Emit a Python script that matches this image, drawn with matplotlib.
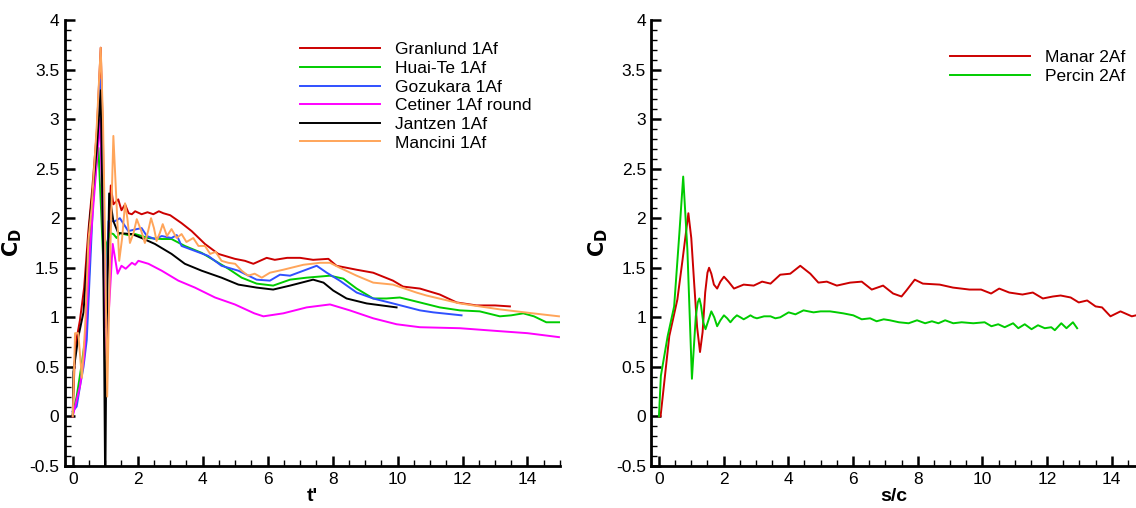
import matplotlib
matplotlib.use('Agg')
from matplotlib import pyplot as plt
from matplotlib.ticker import MultipleLocator, FuncFormatter

plt.rcParams['font.family'] = ['Liberation Sans', 'DejaVu Sans']

# ---- left panel: 1Af cases, C_D vs t'
granlund_t = [0, 0.05, 0.1, 0.22, 0.35, 0.48, 0.6, 0.74, 0.86, 0.93, 1.0, 1.08, 1.17, 1.25, 1.4, 1.5,
              1.61, 1.72, 1.82, 1.92, 2.12, 2.3, 2.48, 2.65, 2.79, 3.0, 3.35, 3.66, 4.07, 4.48, 4.99,
              5.3, 5.56, 5.97, 6.22, 6.6, 7.0, 7.4, 7.87, 8.12, 8.74, 9.25, 9.86, 10.17, 10.69, 11.3,
              11.82, 12.43, 13.0, 13.46]
granlund_cd = [0, 0.5, 0.75, 0.97, 1.3, 1.87, 2.3, 2.87, 3.72, 2.8, 0.9, 1.6, 2.33, 2.14, 2.19, 2.08,
               2.14, 2.05, 2.04, 2.07, 2.04, 2.06, 2.04, 2.07, 2.05, 2.03, 1.95, 1.87, 1.74, 1.64, 1.59,
               1.57, 1.54, 1.60, 1.58, 1.60, 1.60, 1.58, 1.59, 1.52, 1.48, 1.45, 1.37, 1.31, 1.29, 1.23,
               1.15, 1.12, 1.12, 1.11]

huaite_t = [0, 0.12, 0.28, 0.43, 0.58, 0.7, 0.79, 0.89, 0.97, 1.05, 1.15, 1.25, 1.35, 1.45, 1.7, 1.92,
            2.33, 2.74, 3.04, 3.45, 3.97, 4.38, 4.79, 5.2, 5.66, 6.17, 6.69, 7.2, 7.92, 8.33, 8.74, 9.25,
            9.66, 10.07, 10.69, 11.3, 11.92, 12.53, 13.15, 13.5, 13.87, 14.2, 14.58, 15.0]
huaite_cd = [0.02, 0.2, 0.54, 0.9, 2.0, 2.45, 2.71, 1.94, 1.3, 1.75, 1.85, 1.84, 1.80, 1.85, 1.83, 1.84,
             1.80, 1.79, 1.79, 1.72, 1.65, 1.57, 1.49, 1.40, 1.34, 1.32, 1.38, 1.40, 1.42, 1.39, 1.29, 1.19,
             1.19, 1.20, 1.15, 1.10, 1.07, 1.06, 1.01, 1.02, 1.04, 1.01, 0.95, 0.95]

gozukara_t = [0, 0.12, 0.22, 0.33, 0.43, 0.63, 0.76, 0.84, 0.92, 1.0, 1.1, 1.3, 1.45, 1.71, 1.97, 2.12,
              2.28, 2.53, 2.74, 3.04, 3.2, 3.35, 3.76, 4.17, 4.58, 5.1, 5.66, 6.07, 6.38, 6.69, 7.1, 7.51,
              7.82, 8.22, 8.74, 9.25, 9.86, 10.69, 11.1, 11.97]
gozukara_cd = [0.05, 0.1, 0.3, 0.5, 0.77, 2.2, 2.9, 3.4, 2.4, 1.0, 1.97, 1.97, 2.0, 1.87, 1.89, 1.90,
               1.82, 1.79, 1.82, 1.80, 1.83, 1.72, 1.67, 1.62, 1.52, 1.47, 1.38, 1.37, 1.43, 1.42, 1.47, 1.52,
               1.45, 1.37, 1.25, 1.19, 1.14, 1.07, 1.05, 1.02]

cetiner_t = [0, 0.07, 0.22, 0.35, 0.53, 0.7, 0.84, 0.92, 1.0, 1.1, 1.23, 1.38, 1.5, 1.63, 1.82, 1.92,
             2.02, 2.33, 2.74, 3.25, 3.76, 4.38, 4.99, 5.59, 5.87, 6.48, 7.2, 7.92, 8.53, 9.25, 9.97,
             10.69, 11.92, 13.15, 14.0, 14.97]
cetiner_cd = [0, 0.1, 0.3, 0.6, 1.7, 2.4, 3.0, 2.0, 0.6, 1.0, 1.74, 1.44, 1.52, 1.49, 1.55, 1.53,
              1.57, 1.54, 1.47, 1.37, 1.30, 1.20, 1.13, 1.04, 1.01, 1.04, 1.10, 1.13, 1.07, 0.99, 0.93,
              0.90, 0.89, 0.86, 0.84, 0.80]

jantzen_t = [0, 0.02, 0.17, 0.33, 0.53, 0.74, 0.86, 0.94, 0.97, 0.995, 1.005, 1.03, 1.12, 1.25, 1.40,
             1.82, 2.12, 2.53, 3.04, 3.45, 3.97, 4.58, 5.1, 5.66, 6.17, 6.69, 7.4, 7.72, 8.02, 8.43,
             9.05, 9.97]
jantzen_cd = [0, 0.45, 0.8, 1.05, 2.0, 2.7, 3.29, 1.54, 0.5, -0.6, -0.6, 0.6, 2.25, 1.97, 1.85,
              1.84, 1.80, 1.74, 1.64, 1.54, 1.47, 1.40, 1.33, 1.30, 1.28, 1.32, 1.38, 1.35, 1.27, 1.19,
              1.14, 1.10]

mancini_t = [0, 0.07, 0.17, 0.28, 0.38, 0.48, 0.58, 0.74, 0.86, 0.93, 0.99, 1.06, 1.15, 1.25, 1.34,
             1.43, 1.52, 1.61, 1.68, 1.76, 1.87, 1.97, 2.1, 2.22, 2.32, 2.41, 2.5, 2.58, 2.68, 2.77,
             2.9, 3.04, 3.2, 3.35, 3.5, 3.71, 3.87, 4.07, 4.23, 4.4, 4.58, 4.79, 5.0, 5.2, 5.4, 5.6,
             5.82, 6.07, 6.48, 7.1, 7.61, 7.92, 8.22, 8.74, 9.25, 9.86, 10.58, 10.89, 11.92, 13.15,
             14.17, 14.97]
mancini_cd = [0, 0.84, 0.84, 0.39, 0.9, 1.77, 2.1, 2.94, 3.72, 3.0, 1.87, 0.2, 1.6, 2.83, 2.2,
              1.57, 1.8, 2.15, 2.0, 1.75, 1.85, 1.99, 1.88, 1.75, 1.87, 2.0, 1.9, 1.77, 1.85, 1.94,
              1.82, 1.89, 1.80, 1.84, 1.76, 1.80, 1.72, 1.72, 1.64, 1.66, 1.57, 1.55, 1.54, 1.47,
              1.42, 1.44, 1.40, 1.45, 1.48, 1.53, 1.55, 1.55, 1.50, 1.42, 1.35, 1.33, 1.25, 1.22,
              1.14, 1.08, 1.04, 1.01]

# ---- right panel: 2Af cases, C_D vs s/c
manar_s = [0, 0.05, 0.11, 0.32, 0.57, 0.73, 0.91, 1.0, 1.09, 1.18, 1.27, 1.35, 1.43, 1.5, 1.55, 1.62,
           1.7, 1.8, 1.9, 2.01, 2.15, 2.32, 2.62, 2.93, 3.19, 3.45, 3.75, 4.06, 4.37, 4.68, 4.93, 5.19,
           5.5, 5.91, 6.27, 6.58, 6.93, 7.24, 7.5, 7.65, 7.91, 8.16, 8.68, 9.09, 9.6, 9.96, 10.27,
           10.52, 10.83, 11.24, 11.56, 11.87, 12.18, 12.42, 12.73, 12.98, 13.24, 13.5, 13.7, 13.96,
           14.27, 14.62, 14.75]
manar_cd = [0, 0, 0.18, 0.81, 1.18, 1.58, 2.05, 1.8, 1.34, 0.9, 0.65, 0.85, 1.25, 1.45, 1.50, 1.44,
            1.33, 1.29, 1.36, 1.41, 1.36, 1.29, 1.33, 1.32, 1.36, 1.34, 1.43, 1.44, 1.52, 1.44, 1.35, 1.36,
            1.32, 1.35, 1.36, 1.28, 1.32, 1.24, 1.21, 1.27, 1.38, 1.34, 1.33, 1.30, 1.28, 1.28, 1.24,
            1.29, 1.25, 1.23, 1.25, 1.19, 1.21, 1.22, 1.20, 1.15, 1.17, 1.11, 1.10, 1.01,
            1.06, 1.01, 1.02]

percin_s = [0, 0.06, 0.27, 0.47, 0.63, 0.75, 0.88, 1.02, 1.08, 1.14, 1.2, 1.25, 1.3, 1.37, 1.44,
            1.53, 1.62, 1.71, 1.8, 1.9, 2.01, 2.11, 2.21, 2.31, 2.41, 2.52, 2.62, 2.73, 2.83, 2.93,
            3.03, 3.25, 3.45, 3.6, 3.75, 4.01, 4.22, 4.47, 4.78, 5.0, 5.29, 5.5, 5.7, 6.01, 6.27,
            6.53, 6.73, 6.95, 7.14, 7.42, 7.72, 7.98, 8.23, 8.44, 8.64, 8.85, 9.1, 9.36, 9.72, 10.07,
            10.28, 10.49, 10.69, 10.95, 11.11, 11.31, 11.52, 11.72, 11.93, 12.13, 12.24, 12.44,
            12.6, 12.8, 12.93]
percin_cd = [0, 0.41, 0.81, 1.11, 1.84, 2.42, 1.68, 0.38, 0.7, 1.01, 1.15, 1.19, 1.12, 0.95, 0.88,
             0.97, 1.06, 1.0, 0.91, 0.97, 1.02, 0.99, 0.95, 0.99, 1.02, 1.0, 0.98, 1.0, 1.02, 1.0,
             0.99, 1.01, 1.01, 0.99, 1.0, 1.05, 1.03, 1.07, 1.05, 1.06, 1.06, 1.05, 1.04, 1.02, 0.98,
             0.99, 0.96, 0.98, 0.97, 0.95, 0.94, 0.97, 0.94, 0.96, 0.94, 0.97, 0.94, 0.95, 0.94, 0.95,
             0.91, 0.93, 0.90, 0.94, 0.89, 0.93, 0.88, 0.92, 0.89, 0.90, 0.87, 0.94,
             0.89, 0.95, 0.89]

fig = plt.figure(figsize=(11.36, 5.08), dpi=100)
ax1 = fig.add_axes([0.0572, 0.0827, 0.4357, 0.878])
ax2 = fig.add_axes([0.5735, 0.0827, 0.4265, 0.878])

lw = 1.4
ax1.plot(granlund_t, granlund_cd, color='#cc0000', lw=lw, label='Granlund 1Af')
ax1.plot(huaite_t, huaite_cd, color='#00cc00', lw=lw, label='Huai-Te 1Af')
ax1.plot(gozukara_t, gozukara_cd, color='#3050ff', lw=lw, label='Gozukara 1Af')
ax1.plot(cetiner_t, cetiner_cd, color='#ff00ff', lw=lw, label='Cetiner 1Af round')
ax1.plot(jantzen_t, jantzen_cd, color='black', lw=lw, label='Jantzen 1Af')
ax1.plot(mancini_t, mancini_cd, color='#ffa55a', lw=lw, label='Mancini 1Af')

ax2.plot(manar_s, manar_cd, color='#cc0000', lw=lw, label='Manar 2Af')
ax2.plot(percin_s, percin_cd, color='#00cc00', lw=lw, label='Percin 2Af')

fmt = FuncFormatter(lambda v, p: '%g' % round(v, 2))
for ax, xr in ((ax1, (-0.24, 15)), (ax2, (-0.23, 14.75))):
    ax.set_xlim(*xr)
    ax.set_ylim(-0.5, 4)
    ax.spines['top'].set_visible(False)
    ax.spines['right'].set_visible(False)
    ax.spines['left'].set_linewidth(2)
    ax.spines['bottom'].set_linewidth(2)
    ax.xaxis.set_major_locator(MultipleLocator(2))
    ax.xaxis.set_minor_locator(MultipleLocator(0.5))
    ax.yaxis.set_major_locator(MultipleLocator(0.5))
    ax.yaxis.set_minor_locator(MultipleLocator(0.1))
    ax.yaxis.set_major_formatter(fmt)
    ax.xaxis.set_major_formatter(fmt)
    ax.tick_params(which='major', direction='in', length=7, width=1.8, labelsize=12.5, pad=4)
    ax.tick_params(which='minor', direction='in', length=4, width=1)
    ax.set_ylabel(r'$\mathbf{C_D}$', fontsize=15, labelpad=4)

ax1.set_xlabel("t'", fontsize=14, fontweight='bold', labelpad=1)
ax2.set_xlabel('s/c', fontsize=14, fontweight='bold', labelpad=1)

ax1.legend(loc='upper left', bbox_to_anchor=(0.475, 0.95), frameon=False, fontsize=12.5,
           handlelength=4.6, handletextpad=0.85, labelspacing=0.2, borderpad=0, borderaxespad=0)
ax2.legend(loc='upper left', bbox_to_anchor=(0.616, 0.932), frameon=False, fontsize=12.5,
           handlelength=4.6, handletextpad=0.85, labelspacing=0.2, borderpad=0, borderaxespad=0)

fig.savefig('out.png', dpi=100)
